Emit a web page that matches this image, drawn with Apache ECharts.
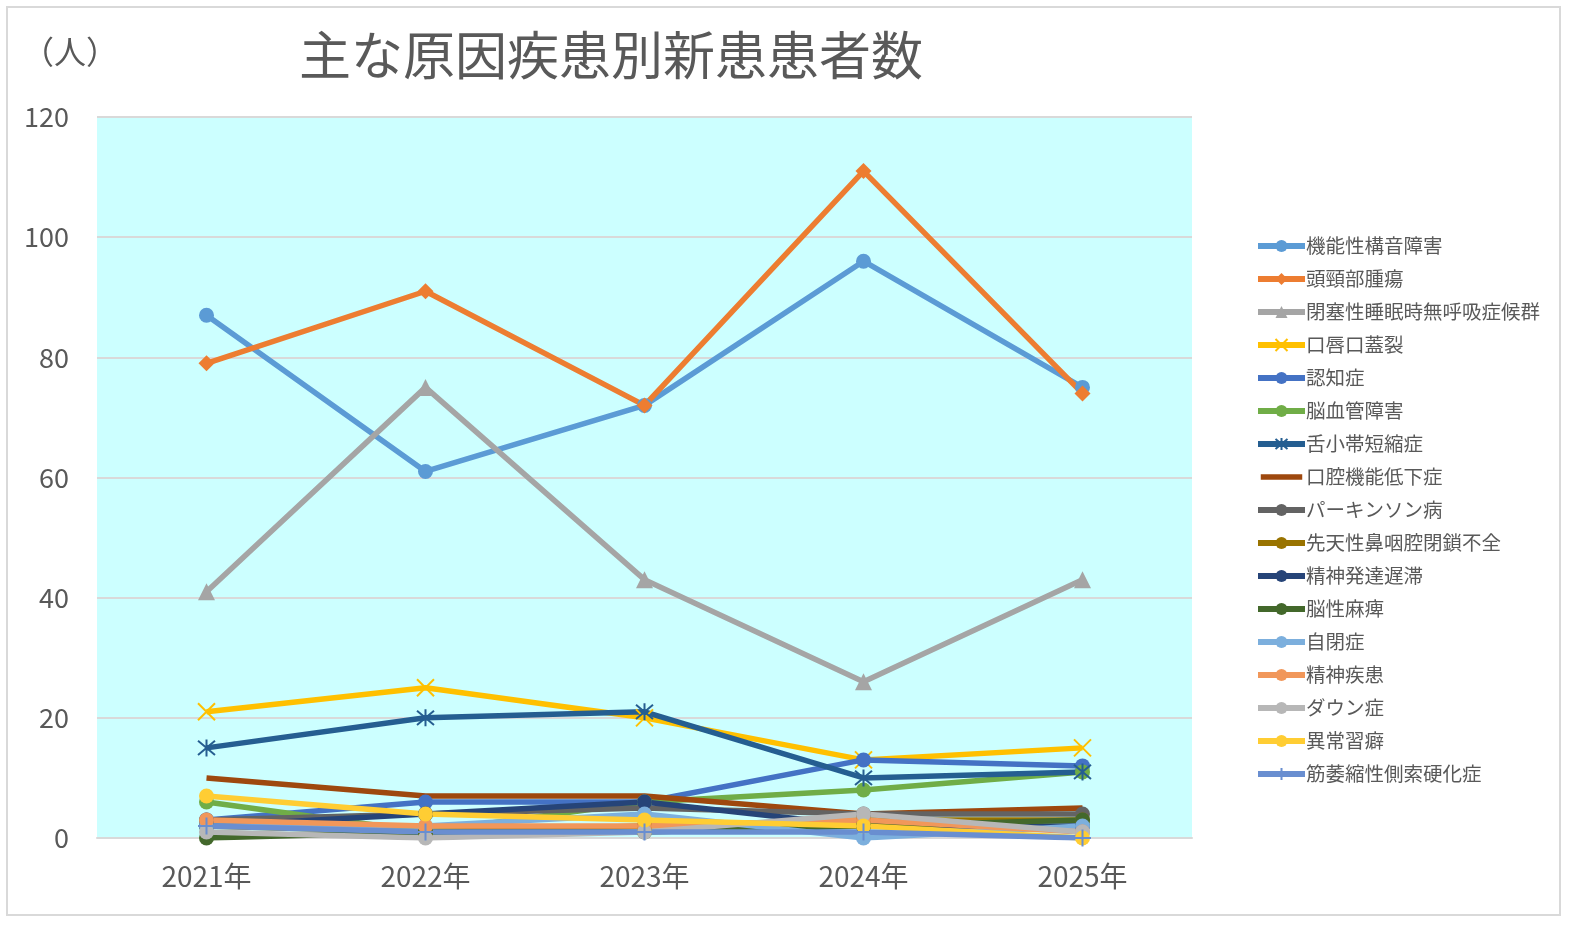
<!DOCTYPE html>
<html>
<head>
<meta charset="utf-8">
<script src="https://cdn.jsdelivr.net/npm/echarts@6/dist/echarts.min.js"></script>
<style>
html,body{margin:0;padding:0;background:#fff;}
#chart{width:1580px;height:929px;}
</style>
</head>
<body>
<div id="chart"></div>
<script>
// 年度
var years = ['2021年','2022年','2023年','2024年','2025年'];
// 疾患名
var names = ['機能性構音障害','頭頸部腫瘍','閉塞性睡眠時無呼吸症候群','口唇口蓋裂','認知症','脳血管障害','舌小帯短縮症','口腔機能低下症','パーキンソン病','先天性鼻咽腔閉鎖不全','精神発達遅滞','脳性麻痺','自閉症','精神疾患','ダウン症','異常習癖','筋萎縮性側索硬化症'];
// 患者数
var kinou = [87, 61, 72, 96, 75];
var tokei = [79, 91, 72, 111, 74];
var heisoku = [41, 75, 43, 26, 43];
var koushin = [21, 25, 20, 13, 15];
var ninchi = [3, 6, 6, 13, 12];
var noukekkan = [6, 1, 6, 8, 11];
var zetsu = [15, 20, 21, 10, 11];
var koukuu = [10, 7, 7, 4, 5];
var parkinson = [3, 4, 5, 4, 4];
var sentensei = [2, 1, 2, 3, 3];
var seishinHattatsu = [2, 4, 6, 2, 2];
var nouseimahi = [0, 1, 1, 2, 3];
var jihei = [2, 2, 4, 0, 2];
var seishinShikkan = [3, 2, 2, 3, 1];
var down = [1, 0, 1, 4, 1];
var ijou = [7, 4, 3, 2, 0];
var kin = [2, 1, 1, 1, 0];
var yTicks = [0, 20, 40, 60, 80, 100, 120];

var allData = [kinou, tokei, heisoku, koushin, ninchi, noukekkan, zetsu, koukuu, parkinson, sentensei, seishinHattatsu, nouseimahi, jihei, seishinShikkan, down, ijou, kin];
var colors = ['#5B9BD5','#ED7D31','#A5A5A5','#FFC000','#4472C4','#70AD47','#255E91','#9E480E','#636363','#997300','#264478','#43682B','#7CAFDD','#F1975A','#B7B7B7','#FFCD33','#698ED0'];
var crossX = 'path://M0,0L10,10M10,0L0,10';
var star = 'path://M0,0L10,10M10,0L0,10M5,-1L5,11';
var plus = 'path://M0,5L10,5M5,0L5,10';
var symbols = ['circle','diamond','triangle',crossX,'circle','circle',star,'none','circle','circle','circle','circle','circle','circle','circle','circle',plus];
var stroked = {3:true, 6:true, 16:true};
// マーカーなしの凡例用（線だけ）
var lineOnlyIcon = 'path://M0,0L0.1,0L0,0Z M0,5.5L47,5.5L47,11.5L0,11.5Z M0,17L0.1,17L0,17Z';

var series = [];
var legendData = [];
for (var i=0;i<names.length;i++){
    var s = {
        name: names[i],
        type: 'line',
        data: allData[i],
        symbol: symbols[i],
        symbolSize: 15,
        showAllSymbol: true,
        lineStyle: {color: colors[i], width: 5.5},
        itemStyle: {color: colors[i]},
        emphasis: {disabled: true}
    };
    if (i==1) s.symbolSize = 16;
    if (i==2) s.symbolSize = 17;
    if (stroked[i]) {
        s.symbolSize = 17;
        s.itemStyle = {color: colors[i], borderColor: colors[i], borderWidth: 2};
    }
    series.push(s);
    if (symbols[i]=='none') legendData.push({name: names[i], icon: lineOnlyIcon});
    else legendData.push(names[i]);
}

var myChart = echarts.init(document.getElementById('chart'));
var option = {
    animation: false,
    backgroundColor: '#fff',
    textStyle: {fontFamily: '"Noto Sans CJK JP", "Noto Sans", sans-serif'},
    graphic: [
        {type:'rect', shape:{x:7,y:7,width:1553,height:908}, style:{fill:'none', stroke:'#D9D9D9', lineWidth:2}, z:-10},
        {type:'text', left:22, top:36, style:{text:'（人）', fill:'#595959', fontSize:32, fontFamily:'"Noto Sans CJK JP"'}}
    ],
    title: {
        text: '主な原因疾患別新患患者数',
        left: 294,
        top: 24,
        textStyle: {fontSize: 52, fontWeight: 'normal', color: '#595959', fontFamily: '"Noto Sans CJK JP"'}
    },
    legend: {
        orient: 'vertical',
        left: 1250,
        top: 231,
        itemWidth: 47,
        itemHeight: 15,
        itemGap: 13,
        data: legendData,
        lineStyle: {width: 6},
        textStyle: {fontSize: 19.5, color: '#595959', lineHeight: 20, padding: [0,0,0,-4]}
    },
    grid: {
        left: 97, top: 117, right: 388, bottom: 91,
        show: true, backgroundColor: '#CCFFFF', borderWidth: 0
    },
    xAxis: {
        type: 'category',
        data: years,
        boundaryGap: true,
        axisLine: {lineStyle: {color: '#D9D9D9', width: 2}},
        axisTick: {show: false},
        axisLabel: {fontSize: 28, color: '#595959', margin: 24}
    },
    yAxis: {
        type: 'value',
        min: yTicks[0],
        max: yTicks[yTicks.length-1],
        interval: 20,
        axisLine: {show: false},
        axisTick: {show: false},
        splitLine: {lineStyle: {color: '#D9D9D9', width: 2}},
        axisLabel: {fontSize: 27, color: '#595959', margin: 28}
    },
    series: series
};
myChart.setOption(option);
</script>
</body>
</html>
